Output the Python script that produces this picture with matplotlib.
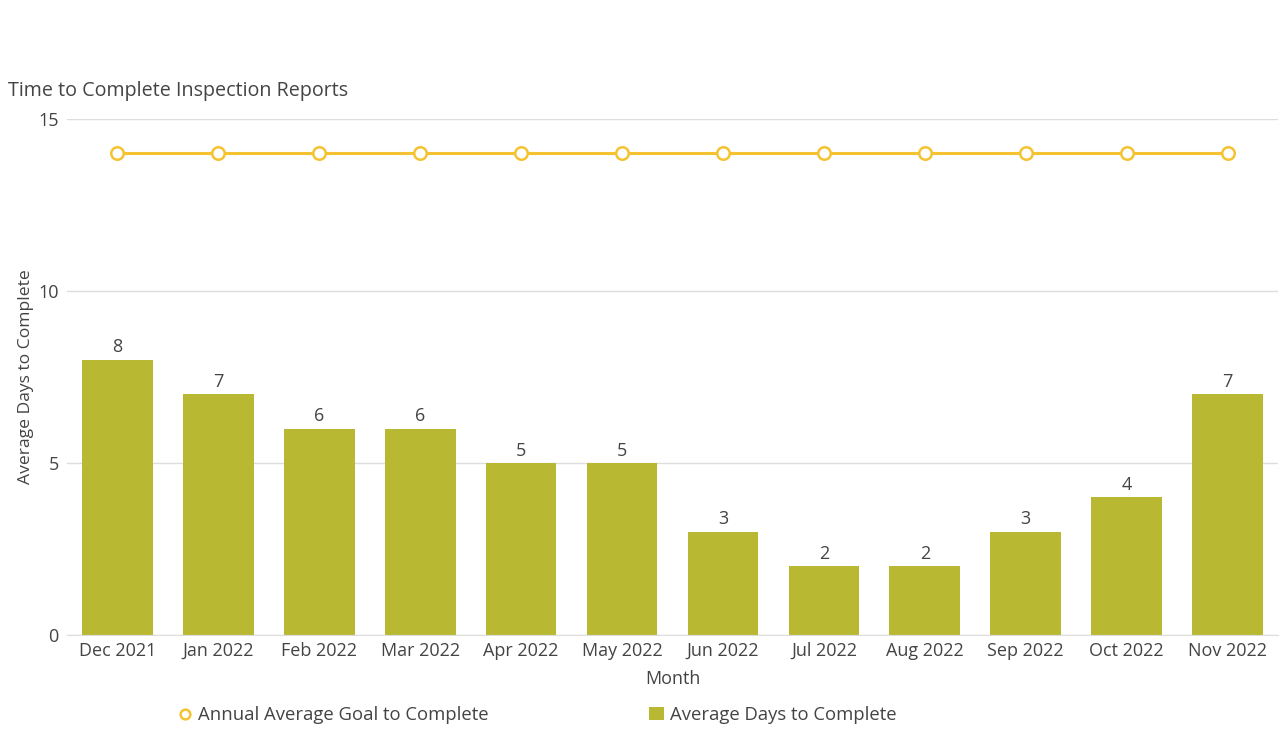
import matplotlib.pyplot as plt
from matplotlib.lines import Line2D
from matplotlib.patches import Patch

months = ['Dec 2021', 'Jan 2022', 'Feb 2022', 'Mar 2022', 'Apr 2022', 'May 2022',
          'Jun 2022', 'Jul 2022', 'Aug 2022', 'Sep 2022', 'Oct 2022', 'Nov 2022']
avg_days = [8, 7, 6, 6, 5, 5, 3, 2, 2, 3, 4, 7]
goal = [14, 14, 14, 14, 14, 14, 14, 14, 14, 14, 14, 14]

bar_color = '#b8b832'
line_color = '#f5c231'
text_color = '#444444'

plt.rcParams['font.family'] = ['Open Sans', 'DejaVu Sans']

fig = plt.figure(figsize=(12.85, 7.39), dpi=100)
ax = fig.add_axes([0.0521, 0.1407, 0.9425, 0.6983])

x = list(range(len(months)))
ax.bar(x, avg_days, width=0.7, color=bar_color, zorder=2)
for xi, v in zip(x, avg_days):
    ax.text(xi, v + 0.1, str(v), ha='center', va='bottom', fontsize=13, color=text_color)

ax.plot(x, goal, color=line_color, linewidth=2.2, marker='o', markersize=9,
        markerfacecolor='white', markeredgecolor=line_color, markeredgewidth=1.8, zorder=3)

ax.set_xlim(-0.5, 11.5)
ax.set_ylim(0, 15)
ax.set_yticks([0, 5, 10, 15])
ax.set_xticks(x)
ax.set_xticklabels(months)
ax.grid(axis='y', color='#dddddd', linewidth=1, zorder=0)
ax.tick_params(axis='both', length=0, labelsize=13, colors=text_color)
ax.tick_params(axis='x', pad=5)
ax.tick_params(axis='y', pad=6)
for s in ['top', 'right', 'left']:
    ax.spines[s].set_visible(False)
ax.spines['bottom'].set_color('#dddddd')

ax.set_xlabel('Month', fontsize=13, color=text_color, labelpad=7)
ax.set_ylabel('Average Days to Complete', fontsize=12.6, color=text_color, labelpad=3)

fig.text(8 / 1285, 1 - 91 / 739, 'Time to Complete Inspection Reports', fontsize=14.2,
         color=text_color, ha='left', va='center')

handles = [Line2D([], [], color=line_color, marker='o', linestyle='none', markersize=7,
                  markerfacecolor='white', markeredgewidth=1.8),
           Patch(facecolor=bar_color)]
fig.legend(handles, ['Annual Average Goal to Complete', 'Average Days to Complete'],
           loc='center', bbox_to_anchor=(0.418, 1 - 715 / 739), ncol=2, frameon=False,
           fontsize=13.3, labelcolor=text_color, columnspacing=8.7, handlelength=0.8,
           handletextpad=0.3)

plt.savefig('out.png', dpi=100)
